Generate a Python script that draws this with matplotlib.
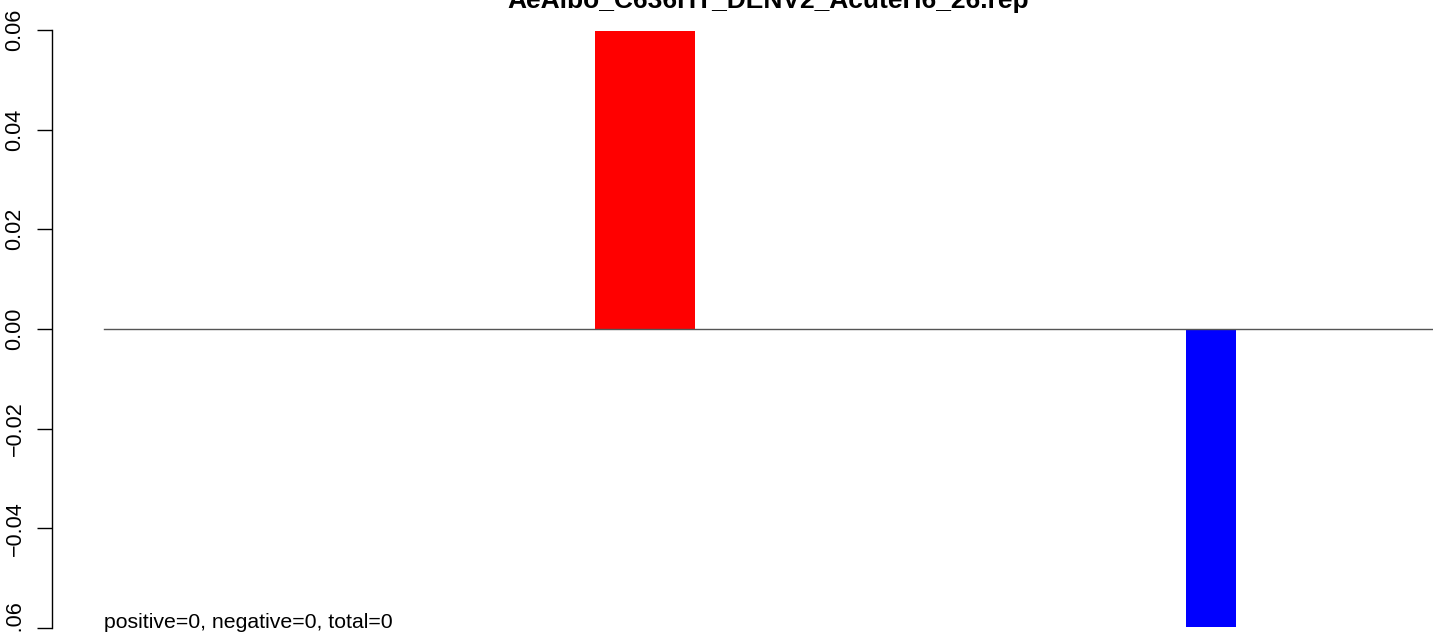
import matplotlib
matplotlib.use("Agg")
import matplotlib.pyplot as plt

plt.rcParams['font.family'] = ['Liberation Sans', 'DejaVu Sans']

# bar data (x in plot units)
bar_left = [543, 1134]
bar_width = [100, 50]
bar_height = [0.0597, -0.0597]
bar_color = ['#ff0000', '#0000ff']
yticks = [-0.06, -0.04, -0.02, 0.00, 0.02, 0.04, 0.06]
ytick_labels = ['\u22120.06', '\u22120.04', '\u22120.02', '0.00', '0.02', '0.04', '0.06']
title = "AeAlbo_C636HT_DENV2_AcuteH6_26.rep"
note = "positive=0, negative=0, total=0"

W, H = 1433, 634
fig = plt.figure(figsize=(W / 100, H / 100), dpi=100)
# axes from x=52px to right edge, full height
ax = fig.add_axes([52 / W, 0, 1 - 52 / W, 1])
ppu = (628 - 30) / 0.12
ax.set_ylim(-0.06 - 6 / ppu, 0.06 + 30 / ppu)
ax.set_xlim(0, W - 52)

ax.bar(bar_left, bar_height, width=bar_width, align='edge', color=bar_color)
ax.plot([52, W - 52], [0, 0], color='#555555', lw=1)

for s in ['top', 'right', 'bottom']:
    ax.spines[s].set_visible(False)
ax.spines['left'].set_bounds(-0.06, 0.06)
ax.spines['left'].set_linewidth(1)
ax.set_xticks([])
ax.set_yticks(yticks)
ax.set_yticklabels(ytick_labels, rotation=90, va='center', fontsize=15.5)
ax.tick_params(axis='y', length=11, width=1, pad=8)

ax.text(52, -0.06, note, fontsize=15.3, ha='left', va='baseline')
fig.text(768 / W, 1 - 8 / H, title, fontsize=19, fontweight='bold',
         ha='center', va='baseline')

fig.savefig("out.png", dpi=100)
